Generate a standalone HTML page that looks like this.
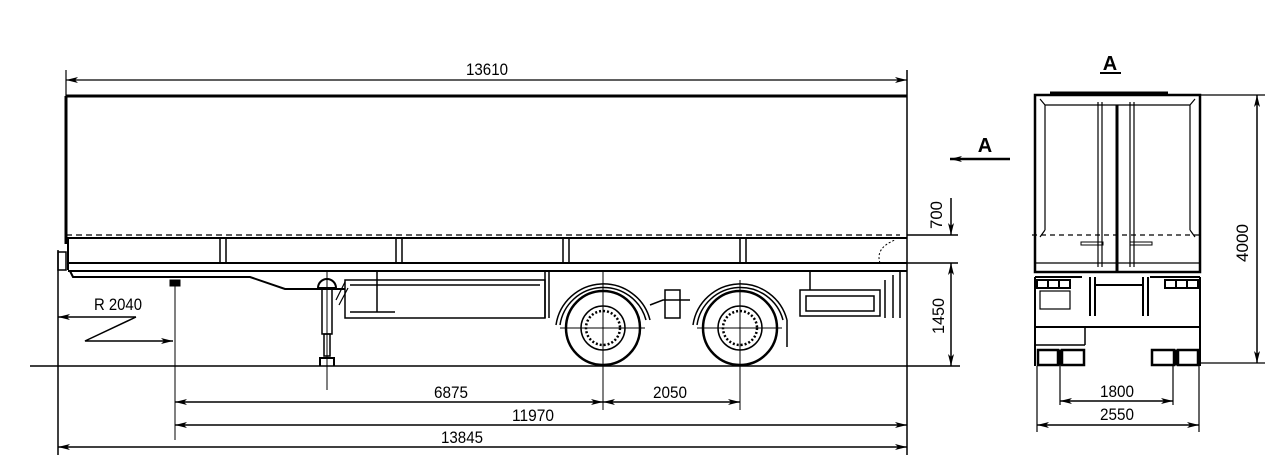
<!DOCTYPE html>
<html><head><meta charset="utf-8"><style>html,body{margin:0;padding:0;background:#fff}svg{display:block}</style></head><body>
<svg width="1280" height="467" viewBox="0 0 1280 467" xmlns="http://www.w3.org/2000/svg" font-family="Liberation Sans, Arial, sans-serif" fill="none" stroke="#000">
<defs>
<marker id="a" viewBox="0 0 12 6" refX="12" refY="3" markerWidth="12" markerHeight="6" orient="auto-start-reverse" markerUnits="userSpaceOnUse"><path d="M0,0 L12,3 L0,6 L3,3 Z" fill="#000" stroke="none"/></marker>
</defs>
<!-- top dim -->
<line x1="66" y1="70" x2="66" y2="96" stroke-width="1.2"/>
<line x1="907" y1="70" x2="907" y2="455" stroke-width="1.5"/>
<line x1="66" y1="80" x2="907" y2="80" stroke-width="1.2" marker-start="url(#a)" marker-end="url(#a)"/>
<text x="487" y="75" font-size="17" fill="#000" stroke="none" text-anchor="middle" textLength="42" lengthAdjust="spacingAndGlyphs">13610</text>
<!-- body -->
<path d="M66,96 H907 M66,96 V244" stroke-width="3"/>
<line x1="66" y1="235" x2="900" y2="235" stroke-width="1.2" stroke-dasharray="6,4"/>
<path d="M66,238 H907" stroke-width="2"/>
<path d="M68,238 V270 M68,263 H907 M68,271 H907" stroke-width="2"/>
<g stroke-width="1.5"><path d="M220,238V263M226,238V263M396,238V263M402,238V263M563,238V263M569,238V263M740,238V263M746,238V263"/></g>
<path d="M880,263 Q875,248 895,240" stroke-width="1" stroke-dasharray="2,2"/>
<rect x="58" y="252" width="8" height="18" stroke-width="1.5"/>
<line x1="58" y1="250" x2="58" y2="455" stroke-width="1.5"/>
<!-- frame -->
<path d="M70,271 L73,277 H250 L285,289 H345" stroke-width="2"/>
<path d="M345,280 V318 H545 V280 Z M350,285 H540 M350,312 H395 M477,318 H545" stroke-width="1.5"/>
<path d="M377,271 V312" stroke-width="1.5"/>
<path d="M545,271 V318 M549,271 V318" stroke-width="1.5"/>
<path d="M810,271 V290 M800,290 H880 V316 H800 Z M806,296 H874 V311 H806 Z" stroke-width="1.5"/>
<path d="M885,280 V318 M893,275 V318 M900,271 V318" stroke-width="1.5"/>
<!-- kingpin -->
<rect x="170" y="280" width="10" height="6" fill="#000"/>
<line x1="175" y1="280" x2="175" y2="440" stroke-width="1"/>
<!-- landing leg -->
<path d="M318,288 A9,9 0 0 1 336,288 Z" stroke-width="2"/>
<rect x="322" y="288" width="10" height="46" stroke-width="1.5"/>
<rect x="324" y="334" width="6" height="22" stroke-width="1.5"/>
<path d="M320,366 V358 H334 V366" stroke-width="2"/>
<line x1="327" y1="272" x2="327" y2="390" stroke-width="1"/>
<path d="M336,300 L345,282 M339,305 L348,288" stroke-width="1.2"/>
<!-- ground -->
<line x1="30" y1="366" x2="960" y2="366" stroke-width="1.5"/>
<!-- wheels -->
<g stroke-width="2.5">
<circle cx="603" cy="328" r="37"/><circle cx="740" cy="328" r="37"/>
</g>
<g stroke-width="1.5">
<circle cx="603" cy="328" r="22"/><circle cx="740" cy="328" r="22"/>
<circle cx="603" cy="328" r="17" stroke-dasharray="2,2" stroke-width="2.5"/><circle cx="740" cy="328" r="17" stroke-dasharray="2,2" stroke-width="2.5"/>
<path d="M556,325 A48,48 0 0 1 650,320 M560,325 A44,44 0 0 1 646,320"/>
<path d="M693,325 A48,48 0 0 1 787,320 M697,325 A44,44 0 0 1 783,320 M787,320 V347"/>
<path d="M650,305 L663,300 H690 M665,290 H680 V318 H665 Z"/>
</g>
<line x1="560" y1="328" x2="645" y2="328" stroke-width="1"/>
<line x1="697" y1="328" x2="782" y2="328" stroke-width="1"/>
<line x1="603" y1="272" x2="603" y2="410" stroke-width="1"/>
<line x1="740" y1="280" x2="740" y2="410" stroke-width="1"/>
<!-- bottom dims -->
<line x1="175" y1="402" x2="603" y2="402" stroke-width="1.5" marker-start="url(#a)" marker-end="url(#a)"/>
<line x1="603" y1="402" x2="740" y2="402" stroke-width="1.5" marker-start="url(#a)" marker-end="url(#a)"/>
<line x1="175" y1="425" x2="907" y2="425" stroke-width="1.5" marker-start="url(#a)" marker-end="url(#a)"/>
<line x1="58" y1="447" x2="907" y2="447" stroke-width="1.5" marker-start="url(#a)" marker-end="url(#a)"/>
<g fill="#000" stroke="none" font-size="17" text-anchor="middle">
<text x="451" y="398" textLength="34" lengthAdjust="spacingAndGlyphs">6875</text>
<text x="670" y="398" textLength="34" lengthAdjust="spacingAndGlyphs">2050</text>
<text x="533" y="421" textLength="42" lengthAdjust="spacingAndGlyphs">11970</text>
<text x="462" y="443" textLength="42" lengthAdjust="spacingAndGlyphs">13845</text>
<text x="118" y="310" textLength="48" lengthAdjust="spacingAndGlyphs">R 2040</text>
</g>
<!-- R 2040 arrows -->
<line x1="58" y1="317" x2="136" y2="317" stroke-width="1.5" marker-start="url(#a)"/>
<path d="M136,317 L85,341 H173" stroke-width="1.5" marker-end="url(#a)"/>
<!-- right dims -->
<path d="M907,235 H958 M907,263 H958" stroke-width="1.5"/>
<line x1="951" y1="198" x2="951" y2="235" stroke-width="1.5" marker-end="url(#a)"/>
<line x1="951" y1="263" x2="951" y2="366" stroke-width="1.5" marker-start="url(#a)" marker-end="url(#a)"/>
<g fill="#000" stroke="none" font-size="17" text-anchor="middle">
<text transform="translate(942,215) rotate(-90)" textLength="28" lengthAdjust="spacingAndGlyphs">700</text>
<text transform="translate(944,316) rotate(-90)" textLength="36" lengthAdjust="spacingAndGlyphs">1450</text>
<text x="985" y="152" font-size="20" font-weight="bold">A</text>
</g>
<line x1="950" y1="159" x2="1010" y2="159" stroke-width="2.5" marker-start="url(#a)"/>
<!-- rear view -->
<text x="1110" y="70" font-size="20" font-weight="bold" fill="#000" stroke="none" text-anchor="middle">A</text>
<line x1="1100" y1="73" x2="1121" y2="73" stroke-width="2"/>
<line x1="1050" y1="93" x2="1168" y2="93" stroke-width="3"/>
<rect x="1035" y="95" width="165" height="177" stroke-width="2.5"/>
<path d="M1045,105 H1190 M1045,105 V230 M1190,105 V230 M1040,99 L1045,105 M1195,99 L1190,105 M1040,237 L1045,230 M1195,237 L1190,230" stroke-width="1.2"/>
<line x1="1117" y1="105" x2="1117" y2="272" stroke-width="3"/>
<path d="M1098,102 V267 M1102,102 V267 M1130,102 V267 M1134,102 V267" stroke-width="1.2"/>
<line x1="1032" y1="235" x2="1202" y2="235" stroke-width="1.2" stroke-dasharray="5,4"/>
<path d="M1081,242 H1103 V245 H1081 Z M1130,242 H1152 V245 H1130 Z" stroke-width="1"/>
<line x1="1036" y1="263" x2="1199" y2="263" stroke-width="1.2"/>
<path d="M1035,277 V366 M1200,277 V366 M1035,327 H1200 M1035,277 H1082 M1150,277 H1200 M1090,277 V316 M1095,277 V316 M1143,277 V316 M1148,277 V316 M1095,285 H1143" stroke-width="2"/>
<path d="M1037,280 H1070 V288 H1037 Z M1048,280 V288 M1059,280 V288 M1165,280 H1198 V288 H1165 Z M1176,280 V288 M1187,280 V288" stroke-width="2"/>
<rect x="1040" y="291" width="30" height="18" stroke-width="1.2"/>
<path d="M1085,327 V345 M1035,345 H1085" stroke-width="1.5"/>
<g stroke-width="2.5">
<rect x="1038" y="350" width="20" height="15"/><rect x="1062" y="350" width="22" height="15"/>
<rect x="1152" y="350" width="22" height="15"/><rect x="1178" y="350" width="20" height="15"/>
</g>
<rect x="1058" y="350" width="4" height="15" fill="#000"/><rect x="1174" y="350" width="4" height="15" fill="#000"/>
<path d="M1060,365 V405 M1173,365 V405 M1037,366 V432 M1199,366 V432" stroke-width="1.2"/>
<line x1="1060" y1="401" x2="1173" y2="401" stroke-width="1.5" marker-start="url(#a)" marker-end="url(#a)"/>
<line x1="1037" y1="425" x2="1199" y2="425" stroke-width="1.5" marker-start="url(#a)" marker-end="url(#a)"/>
<path d="M1200,95 H1265 M1200,363 H1265" stroke-width="1.2"/>
<line x1="1257" y1="95" x2="1257" y2="363" stroke-width="1.5" marker-start="url(#a)" marker-end="url(#a)"/>
<g fill="#000" stroke="none" font-size="17" text-anchor="middle">
<text x="1117" y="397" textLength="34" lengthAdjust="spacingAndGlyphs">1800</text>
<text x="1117" y="420" textLength="34" lengthAdjust="spacingAndGlyphs">2550</text>
<text transform="translate(1248,243) rotate(-90)" textLength="38" lengthAdjust="spacingAndGlyphs">4000</text>
</g>
</svg>
</body></html>
